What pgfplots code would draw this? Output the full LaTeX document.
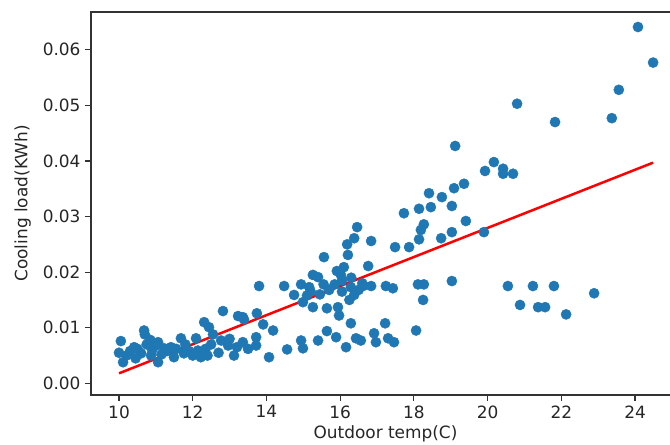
\documentclass[border=0pt]{standalone}
\usepackage{pgfplots}
\pgfplotsset{compat=1.18}
\usepackage{fontspec}
\setmainfont{DejaVu Sans}
\definecolor{mplblue}{HTML}{1F77B4}
\begin{document}
\begin{tikzpicture}
\begin{axis}[
  scale only axis,
  width=589bp, height=383bp,
  xmin=9.24, xmax=25.22,
  ymin=-0.0021, ymax=0.0668,
  axis line style={black!80, line width=1.1bp},
  tick align=outside,
  tick pos=left,
  major tick length=6bp,
  every tick/.style={black!80, line width=1.1bp},
  xtick={10,12,14,16,18,20,22,24},
  ytick={0,0.01,0.02,0.03,0.04,0.05,0.06},
  yticklabels={0.00,0.01,0.02,0.03,0.04,0.05,0.06},
  scaled y ticks=false,
  /pgf/number format/assume math mode=true,
  ticklabel style={font=\fontsize{17}{20}\selectfont, text=black!85},
  xticklabel style={yshift=-1bp},
  yticklabel style={xshift=-1bp},
  xlabel={Outdoor temp(C)},
  ylabel={Cooling load(KWh)},
  label style={font=\fontsize{17}{20}\selectfont, text=black!85},
  xlabel style={yshift=0bp},
  ylabel style={yshift=5bp},
]
\addplot[only marks, mark=*, mark size=5.1bp, color=mplblue, mark options={draw=mplblue, fill=mplblue}] table {
x y
24.08 0.0641
24.49 0.0577
23.56 0.0528
23.37 0.0477
20.80 0.0503
21.83 0.0470
19.12 0.0427
20.17 0.0398
19.93 0.0382
20.42 0.0386
20.42 0.0377
20.69 0.0377
19.36 0.0359
19.09 0.0351
18.76 0.0335
19.03 0.0319
19.41 0.0292
19.03 0.0272
19.90 0.0272
18.74 0.0261
19.03 0.0184
20.55 0.0175
21.23 0.0175
21.80 0.0175
20.88 0.0141
21.37 0.0137
21.56 0.0137
22.13 0.0124
22.89 0.0162
18.41 0.0342
18.14 0.0314
18.46 0.0317
17.73 0.0306
18.27 0.0286
18.19 0.0276
18.14 0.0259
17.49 0.0245
17.87 0.0245
16.46 0.0281
16.84 0.0256
16.38 0.0261
16.19 0.0250
16.21 0.0231
15.56 0.0227
16.76 0.0211
16.10 0.0209
15.91 0.0202
16.02 0.0195
15.26 0.0195
15.40 0.0191
14.94 0.0178
15.16 0.0173
14.48 0.0175
13.80 0.0175
14.75 0.0159
14.99 0.0146
15.26 0.0137
16.29 0.0173
16.62 0.0175
16.84 0.0175
16.38 0.0159
17.24 0.0175
17.43 0.0171
18.11 0.0178
18.27 0.0178
18.25 0.0150
15.64 0.0135
15.94 0.0137
15.97 0.0122
16.29 0.0108
17.22 0.0108
18.06 0.0095
13.74 0.0126
13.91 0.0106
14.18 0.0095
13.36 0.0119
13.36 0.0074
13.72 0.0083
13.72 0.0068
14.07 0.0047
14.56 0.0061
14.94 0.0077
14.99 0.0063
15.40 0.0077
15.64 0.0094
15.89 0.0083
16.16 0.0065
16.43 0.0081
16.56 0.0077
16.92 0.0090
16.97 0.0074
17.30 0.0081
17.46 0.0074
15.20 0.0165
15.45 0.0160
15.70 0.0168
15.10 0.0158
16.05 0.0165
16.25 0.0150
16.50 0.0168
15.85 0.0178
16.30 0.0190
16.60 0.0180
16.05 0.0185
15.55 0.0178
12.82 0.0130
13.23 0.0121
13.39 0.0115
12.31 0.0110
12.44 0.0101
10.68 0.0095
10.05 0.0076
11.68 0.0081
12.09 0.0081
11.06 0.0074
10.41 0.0065
10.00 0.0055
10.11 0.0038
10.60 0.0054
10.87 0.0050
11.06 0.0038
11.49 0.0047
11.76 0.0054
12.14 0.0059
12.22 0.0047
12.77 0.0077
12.96 0.0068
13.12 0.0050
11.22 0.0063
11.41 0.0065
10.20 0.0050
10.30 0.0058
10.50 0.0062
10.70 0.0088
10.75 0.0070
10.90 0.0060
11.00 0.0068
11.15 0.0052
11.30 0.0058
11.55 0.0062
11.90 0.0058
12.00 0.0050
12.35 0.0062
12.50 0.0070
12.55 0.0088
12.40 0.0050
12.70 0.0055
13.00 0.0080
13.20 0.0065
13.50 0.0062
11.80 0.0070
10.45 0.0045
10.85 0.0078
};
\addplot[color=red, line width=2.5bp] coordinates {(10.0,0.0018) (24.49,0.0397)};
\end{axis}
\pgfresetboundingbox
\useasboundingbox ([shift={(-91bp,-50bp)}]current axis.south west) rectangle ([shift={(579bp,395bp)}]current axis.south west);
\end{tikzpicture}
\end{document}
